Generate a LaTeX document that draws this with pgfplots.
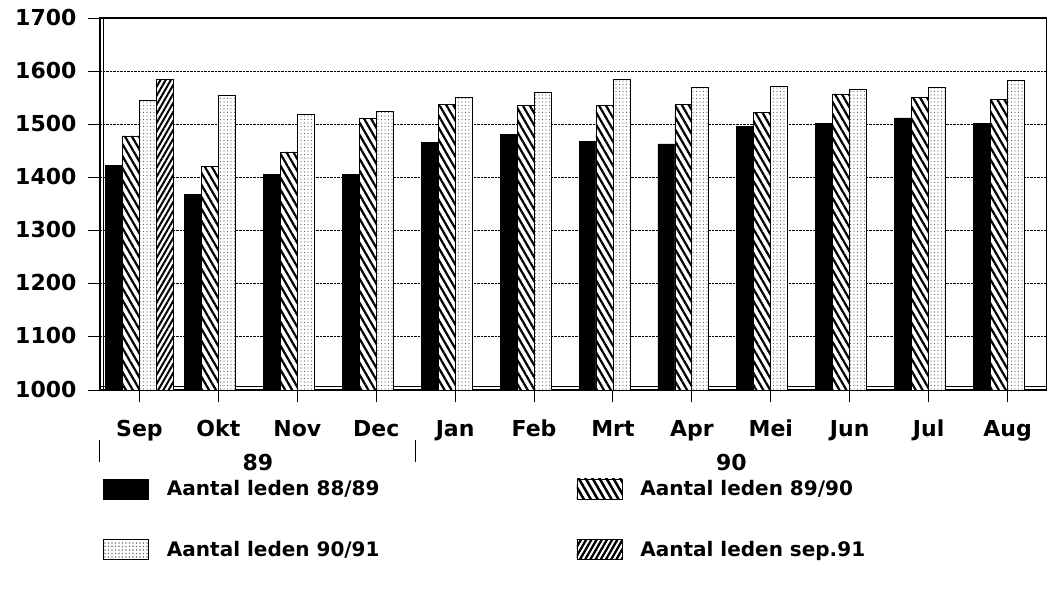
\documentclass[border=0pt]{standalone}
\usepackage{pgfplots}
\pgfplotsset{compat=1.18}
\usetikzlibrary{patterns,patterns.meta}
\usepackage{fontspec}
\setmainfont{DejaVu Sans}
\pgfplotstableread{
x a b c
0 1422 1478 1545
1 1368 1420 1554
2 1406 1448 1518
3 1406 1511 1525
4 1466 1537 1550
5 1481 1535 1560
6 1467 1535 1585
7 1463 1537 1570
8 1496 1523 1572
9 1502 1557 1566
10 1512 1551 1569
11 1502 1546 1582
}\leden
\pgfplotstableread{
x d
0 1585
}\sepnegen
\begin{document}
\begin{tikzpicture}[x=1pt,y=1pt]
\path[use as bounding box] (0,0) rectangle (1047,592);
\begin{axis}[
  at={(100pt,202pt)}, anchor=south west,
  scale only axis, width=947pt, height=372pt,
  xmin=-0.5, xmax=11.5, ymin=1000, ymax=1700,
  ytick={1000,1100,...,1700},
  xtick={0,...,11},
  xticklabels={Sep,Okt,Nov,Dec,Jan,Feb,Mrt,Apr,Mei,Jun,Jul,Aug},
  xtick pos=left, ytick pos=left,
  tick align=outside, major tick length=12pt,
  tick style={black, line width=1pt},
  axis line style={line width=1.2pt},
  ymajorgrids, grid style={densely dotted, black, line width=0.8pt},
  /pgf/number format/1000 sep={},
  /pgf/number format/assume math mode=true,
  tick label style={font=\bfseries\fontsize{22}{22}\selectfont},
  yticklabel style={xshift=-8pt, yshift=1pt},
  xticklabel style={anchor=base, yshift=-34pt},
  ybar=0pt, bar width=0.215,
  clip=false,
  legend columns=2,
  legend cell align=left,
  legend style={draw=none, fill=none, at={(0,-0.232)}, anchor=north west,
    font=\bfseries\fontsize{20}{20}\selectfont,
    /tikz/every odd column/.append style={column sep=16pt},
    /tikz/every even column/.append style={column sep=195pt},
    row sep=40pt},
]
\draw[line width=1pt] ([yshift=4pt]rel axis cs:0,0) -- ([yshift=4pt]rel axis cs:1,0);
\draw[line width=1pt] ([xshift=4pt]rel axis cs:0,0) -- ([xshift=4pt]rel axis cs:0,1);
\addplot[draw=black, line width=0.8pt, fill=black,
  legend image code/.code={\draw[draw=black, fill=black] (0pt,-10pt) rectangle (45pt,10pt);}]
  table[x=x,y=a]{\leden};
\addlegendentry{Aantal leden 88/89}
\addplot[draw=black, line width=0.8pt, fill=white,
  postaction={pattern={Lines[angle=120,distance=6pt,line width=2.2pt]}},
  legend image code/.code={\draw[draw=black, fill=white, postaction={pattern={Lines[angle=120,distance=6pt,line width=2.2pt]}}] (0pt,-10pt) rectangle (45pt,10pt);}]
  table[x=x,y=b]{\leden};
\addlegendentry{Aantal leden 89/90}
\addplot[draw=black, line width=0.8pt, fill=white,
  postaction={pattern={Dots[distance=3.5pt,radius=0.55pt]}, pattern color=black!60},
  legend image code/.code={\draw[draw=black, fill=white, postaction={pattern={Dots[distance=3.5pt,radius=0.55pt]}, pattern color=black!60}] (0pt,-10pt) rectangle (45pt,10pt);}]
  table[x=x,y=c]{\leden};
\addlegendentry{Aantal leden 90/91}
\addplot[draw=black, line width=0.8pt, fill=white,
  postaction={pattern={Lines[angle=60,distance=4.5pt,line width=2pt]}},
  legend image code/.code={\draw[draw=black, fill=white, postaction={pattern={Lines[angle=60,distance=4.5pt,line width=2pt]}}] (0pt,-10pt) rectangle (45pt,10pt);}]
  table[x=x,y=d]{\sepnegen};
\addlegendentry{Aantal leden sep.91}
\node[font=\bfseries\fontsize{22}{22}\selectfont] at (axis cs:1.5,1000) [yshift=-72pt] {89};
\node[font=\bfseries\fontsize{22}{22}\selectfont] at (axis cs:7.5,1000) [yshift=-72pt] {90};
\draw[line width=1pt] ([yshift=-50pt]axis cs:-0.5,1000) -- ([yshift=-72pt]axis cs:-0.5,1000);
\draw[line width=1pt] ([yshift=-50pt]axis cs:3.5,1000) -- ([yshift=-72pt]axis cs:3.5,1000);
\end{axis}
\end{tikzpicture}
\end{document}
